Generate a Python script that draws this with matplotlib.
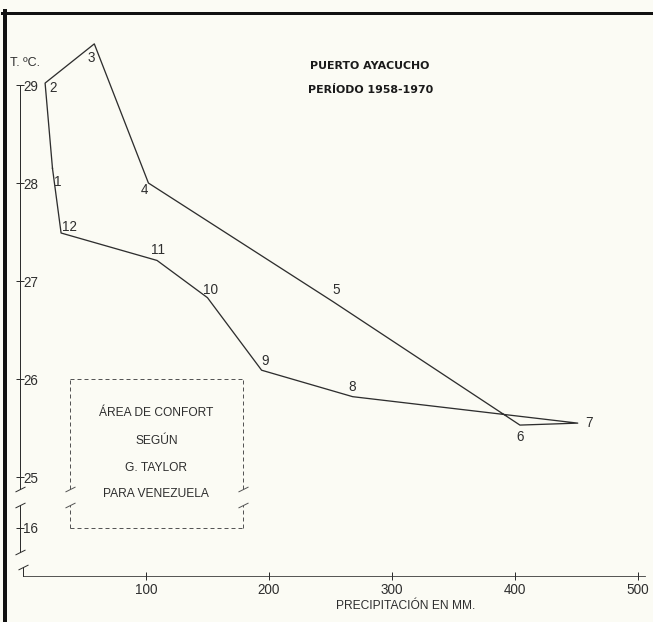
import numpy as np
import matplotlib
matplotlib.use("Agg")
import matplotlib.pyplot as plt
from matplotlib.lines import Line2D

plt.rcParams['font.family'] = ['Liberation Sans', 'DejaVu Sans']

# datos mensuales
months = ['1', '2', '3', '4', '5', '6', '7', '8', '9', '10', '11', '12']
precip = [24, 18, 58, 102, 252, 404, 451, 268, 194, 150, 109, 31]
temp = [28.15, 29.02, 29.42, 28.0, 26.79, 25.53, 25.55, 25.82, 26.09, 26.83, 27.21, 27.49]
# desplazamiento de cada numero de mes respecto al punto (px, y hacia arriba)
lab_dx = [5, 8, -3, -4, 3, 0, 8, 0, 4, 3, 1, 8]
lab_dy = [-14, -5, -14, -7, 12, -12, 0, 10, 9, 8, 10, 6]

x_ticks = [100, 200, 300, 400, 500]
y_ticks = [16, 25, 26, 27, 28, 29]
comfort = ['ÁREA DE CONFORT', 'SEGÚN', 'G. TAYLOR', 'PARA VENEZUELA']
comfort_x = (38, 179)
comfort_t = (16.0, 26.0)

# eje de temperatura cortado: 16 se dibuja justo debajo de 25
T_IN = [0, 16.3, 24.8, 40]
T_OUT = [8.48, 24.78, 24.8, 40]


def fwd(t):
    return np.interp(t, T_IN, T_OUT)


def inv(u):
    return np.interp(u, T_OUT, T_IN)


W, H = 653, 622
fig = plt.figure(figsize=(W / 72, H / 72), dpi=72)
bg = '#fbfbf4'
fig.patch.set_facecolor(bg)

x0 = -2.4
ax = fig.add_axes([20 / W, (H - 576) / H, (645.4 - 20) / W, (576 - 13.5) / H])
ax.set_facecolor(bg)
ax.set_yscale('function', functions=(fwd, inv))
ax.set_xlim(x0, 506)
ax.set_ylim(15.51, 29.73)

ink = '#2e2e2e'
for s in ['left', 'top', 'right']:
    ax.spines[s].set_visible(False)
ax.spines['bottom'].set_bounds(0, 506)
ax.spines['bottom'].set_color(ink)

ax.set_xticks(x_ticks, [str(v) for v in x_ticks])
ax.tick_params(axis='x', direction='inout', length=8, width=1, pad=3,
               labelsize=13.5, colors=ink)
ax.set_yticks(y_ticks, [str(v) for v in y_ticks], ha='left')
ax.tick_params(axis='y', direction='inout', length=8, width=1, pad=-7,
               labelsize=13.5, colors=ink)

# eje vertical en dos tramos con marcas de corte
ax.plot([x0, x0], [24.88, 29], color=ink, lw=1, clip_on=False)
ax.plot([x0, x0], [15.76, 16.23], color=ink, lw=1, clip_on=False)
ax.plot([0, 0], [15.51, 15.6], color=ink, lw=1, clip_on=False)
brk = dict(marker=[(-1, -0.5), (1, 0.5)], markersize=10, linestyle='none',
           color=ink, mec=ink, mew=1, clip_on=False)
ax.plot([x0, x0, x0, 0], [24.88, 16.23, 15.76, 15.6], **brk)

# area de confort
box = dict(color='#555555', lw=1, ls=(0, (4, 3)))
ax.plot(comfort_x, [comfort_t[1]] * 2, **box)
ax.plot(comfort_x, [comfort_t[0]] * 2, **box)
for xs in comfort_x:
    ax.plot([xs, xs], [24.88, comfort_t[1]], **box)
    ax.plot([xs, xs], [comfort_t[0], 16.23], **box)
    ax.plot([xs, xs], [24.88, 16.23], **dict(brk, color='#555555', mec='#555555'))
cx = sum(comfort_x) / 2
for txt, t in zip(comfort, [25.65, 25.37, 25.09, 24.83]):
    ax.text(cx, t, txt, ha='center', va='center', fontsize=12, color=ink)

# climograma
ax.plot(precip + precip[:1], temp + temp[:1], color=ink, lw=1.3)
for m, p, t, dx, dy in zip(months, precip, temp, lab_dx, lab_dy):
    ax.annotate(m, (p, t), xytext=(dx, dy), textcoords='offset points',
                ha='left' if m == '7' else 'center', va='center',
                fontsize=13.5, color=ink)

fig.text(370 / W, 1 - 66 / H, 'PUERTO AYACUCHO', ha='center', va='center',
         fontsize=11, fontweight='bold', family='DejaVu Sans', color='#1a1a1a')
fig.text(371 / W, 1 - 90 / H, 'PERÍODO 1958-1970', ha='center', va='center',
         fontsize=11, fontweight='bold', family='DejaVu Sans', color='#1a1a1a')
fig.text(10 / W, 1 - 63 / H, 'T. ºC.', ha='left', va='center', fontsize=12.5, color=ink)
fig.text(406 / W, 1 - 606 / H, 'PRECIPITACIÓN EN MM.', ha='center', va='center',
         fontsize=12, color=ink)

# marco grueso del original
fig.add_artist(Line2D([2 / W, 1], [1 - 12.5 / H] * 2, transform=fig.transFigure,
                      color='#111111', lw=3))
fig.add_artist(Line2D([4.5 / W] * 2, [0, 1 - 11 / H], transform=fig.transFigure,
                      color='#111111', lw=4))

fig.savefig('out.png', dpi=72, facecolor=bg)
